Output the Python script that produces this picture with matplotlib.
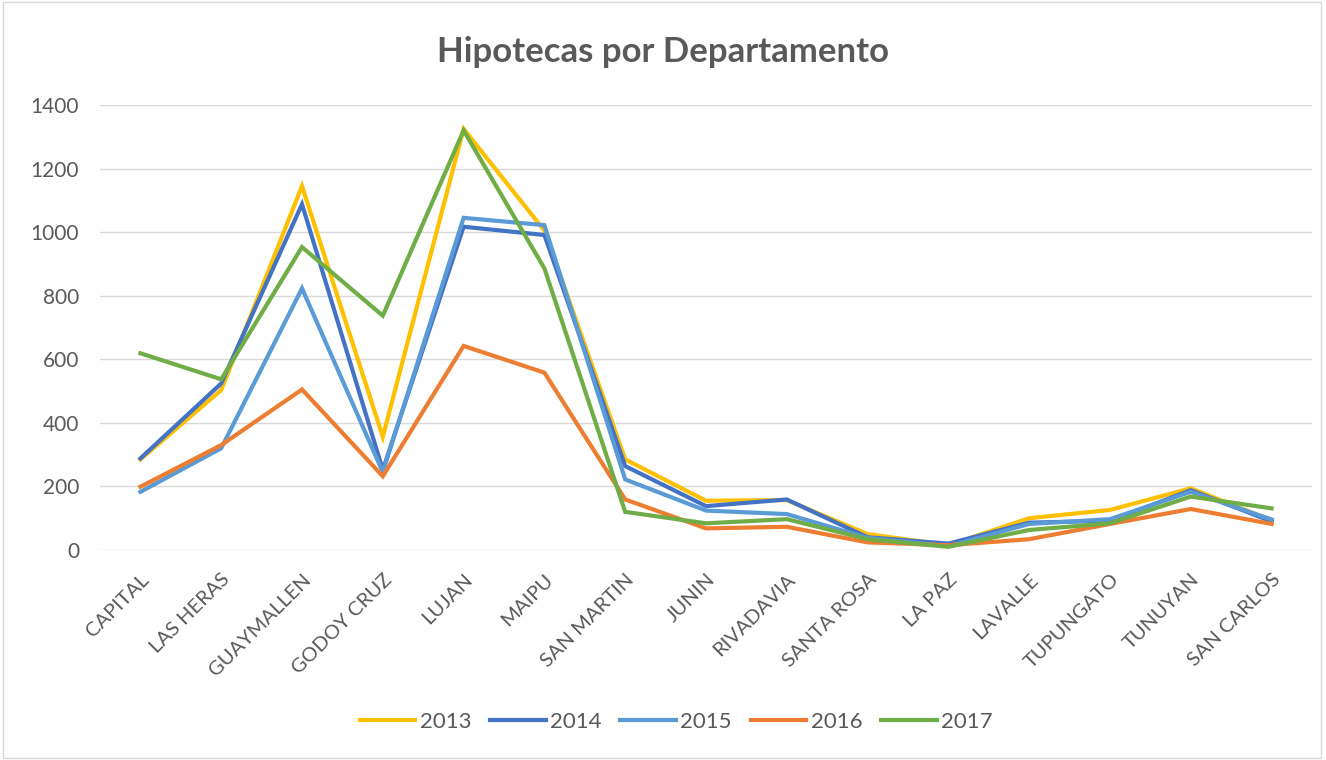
import matplotlib
matplotlib.use('Agg')
import matplotlib.pyplot as plt
from matplotlib.patches import Rectangle

departamentos = ['CAPITAL', 'LAS HERAS', 'GUAYMALLEN', 'GODOY CRUZ', 'LUJAN', 'MAIPU',
                 'SAN MARTIN', 'JUNIN', 'RIVADAVIA', 'SANTA ROSA', 'LA PAZ', 'LAVALLE',
                 'TUPUNGATO', 'TUNUYAN', 'SAN CARLOS']

h2013 = [285, 503, 1145, 356, 1325, 1005, 285, 155, 157, 50, 15, 100, 126, 194, 93]
h2014 = [288, 524, 1088, 252, 1017, 991, 264, 138, 159, 40, 20, 86, 92, 188, 90]
h2015 = [183, 320, 823, 245, 1045, 1022, 222, 124, 113, 38, 12, 82, 97, 183, 96]
h2016 = [199, 330, 505, 232, 642, 558, 159, 68, 73, 24, 15, 34, 82, 129, 82]
h2017 = [619, 537, 953, 737, 1320, 886, 120, 84, 97, 34, 10, 63, 84, 168, 131]

anios = ['2013', '2014', '2015', '2016', '2017']
series = [h2013, h2014, h2015, h2016, h2017]
colores = ['#FFC000', '#4472C4', '#5B9BD5', '#ED7D31', '#70AD47']

gris = '#595959'
plt.rcParams['font.family'] = ['Lato', 'DejaVu Sans']

fig = plt.figure(figsize=(13.26, 7.6), dpi=100)
ax = fig.add_axes([100 / 1326, 1 - 550 / 760, 1212 / 1326, 445 / 760])

x = range(len(departamentos))
for serie, anio, color in zip(series, anios, colores):
    ax.plot(x, serie, color=color, linewidth=3, label=anio, solid_joinstyle='miter')

ax.set_xlim(-0.5, len(departamentos) - 0.5)
ax.set_ylim(0, 1400)
ax.set_yticks(range(0, 1401, 200))
ax.set_xticks(list(x))
ax.set_xticklabels(departamentos, rotation=45, ha='right', rotation_mode='anchor')
ax.tick_params(axis='both', length=0, labelsize=15, colors=gris)
ax.tick_params(axis='x', labelsize=14.5, pad=15)
ax.tick_params(axis='y', pad=15)
ax.grid(axis='y', color='#D9D9D9', linewidth=1)
ax.set_axisbelow(True)
for s in ax.spines.values():
    s.set_visible(False)

fig.text(0.5, 1 - 52 / 760, 'Hipotecas por Departamento', ha='center', va='center',
         fontsize=25, fontweight='bold', color=gris)

fig.legend(loc='center', bbox_to_anchor=(0.51, 1 - 722 / 760), ncol=5, frameon=False,
           fontsize=16, handlelength=2.5, columnspacing=0.85, handletextpad=0.2,
           labelcolor=gris)

fig.patches.append(Rectangle((0.002, 0.003), 0.994, 0.994, transform=fig.transFigure,
                             fill=False, edgecolor='#D9D9D9', linewidth=1))

fig.savefig('out.png', dpi=100)
